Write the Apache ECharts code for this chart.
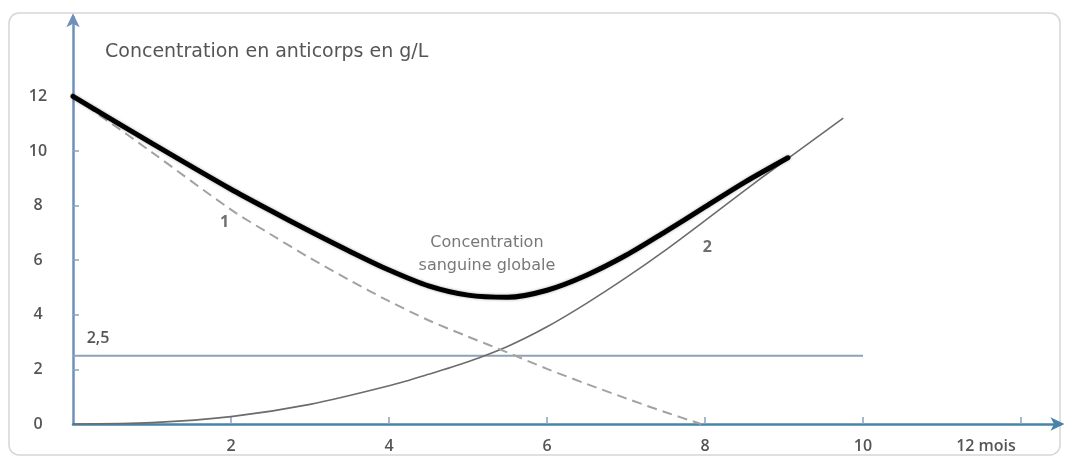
<!DOCTYPE html>
<html>
<head>
<meta charset="utf-8">
<script src="https://cdn.jsdelivr.net/npm/echarts@6/dist/echarts.min.js"></script>
<style>
html,body{margin:0;padding:0;background:#fff;}
#c{width:1067px;height:462px;}
</style>
</head>
<body>
<div id="c"></div>
<script>
// ---- data (months, g/L) ----
var titleText = 'Concentration en anticorps en g/L';
var xTickValues = [2, 4, 6, 8, 10, 12];
var xLastLabel = '12 mois';
var yTickValues = [0, 2, 4, 6, 8, 10, 12];

var globalX = [0, 1, 2, 2.5, 3, 3.5, 4, 4.5, 5, 5.5, 6, 6.5, 7, 7.5, 8, 8.5, 9.05];
var globalY = [12, 10.28, 8.6, 7.82, 7.06, 6.33, 5.64, 5.06, 4.72, 4.64, 4.9, 5.45, 6.18, 7.05, 7.95, 8.85, 9.75];

var curve1X = [0, 0.5, 1, 2, 2.5, 3, 3.5, 4, 4.5, 5, 5.5, 6, 6.5, 7, 7.5, 7.95];
var curve1Y = [12, 10.98, 9.95, 7.85, 6.95, 6.08, 5.27, 4.5, 3.8, 3.2, 2.62, 2.02, 1.47, 0.94, 0.43, 0];

var curve2X = [0, 1, 2, 3, 4, 4.5, 5, 5.5, 6, 6.5, 7, 7.5, 8, 8.5, 9, 9.75];
var curve2Y = [0, 0.05, 0.27, 0.72, 1.4, 1.82, 2.28, 2.84, 3.56, 4.42, 5.36, 6.37, 7.45, 8.55, 9.62, 11.2];

var thresholdX = [0, 10];
var thresholdY = [2.5, 2.5];
var thresholdLabel = '2,5';

var annotTexts = ['1', '2', 'Concentration\nsanguine globale'];
var annotX = [1.92, 8.03, 5.24];
var annotY = [7.4, 6.48, 6.23];

function zip(a, b) { return a.map(function (v, i) { return [v, b[i]]; }); }

var textColor = '#555';
var font = '"Open Sans", "Noto Sans", sans-serif';
var font2 = '"DejaVu Sans", "Noto Sans", sans-serif';

var chart = echarts.init(document.getElementById('c'), null, {renderer: 'canvas'});
chart.setOption({
  backgroundColor: '#fff',
  animation: false,
  title: {
    text: titleText,
    left: 100, top: 38,
    textStyle: {fontFamily: font2, fontSize: 19, fontWeight: 'normal', color: textColor}
  },
  graphic: [{
    type: 'rect', z: -10, silent: true,
    shape: {x: 9, y: 13, width: 1051, height: 442, r: 10},
    style: {fill: null, stroke: '#d6d6d6', lineWidth: 1.5}
  }],
  grid: {left: 73, top: 17.2, width: 987.5, height: 406.8},
  xAxis: {
    type: 'value', min: 0, max: 12.5, interval: 2,
    splitLine: {show: false},
    axisLine: {show: true, symbol: ['none', 'arrow'], symbolSize: [10, 14], symbolOffset: [0, 4],
      lineStyle: {color: '#4a83a8', width: 2.5}},
    axisTick: {show: true, inside: true, length: 7, customValues: xTickValues,
      lineStyle: {color: '#8aa4bd', width: 1.5}},
    axisLabel: {
      customValues: xTickValues, margin: 14,
      fontFamily: font, fontSize: 16, fontWeight: 600, color: textColor,
      formatter: function (v) { return v === 12 ? '{m|' + xLastLabel + '}' : String(v); },
      rich: {m: {fontFamily: font, fontSize: 16, fontWeight: 600, color: textColor, padding: [0, 70, 0, 0]}}
    }
  },
  yAxis: {
    type: 'value', min: 0, max: 14.9, interval: 2,
    splitLine: {show: false},
    axisLine: {show: true, symbol: ['none', 'arrow'], symbolSize: [10, 14], symbolOffset: [0, 4],
      lineStyle: {color: '#6f90b8', width: 2.5}},
    axisTick: {show: true, inside: true, length: 6, customValues: [2, 4, 6, 8, 10],
      lineStyle: {color: '#8aa4bd', width: 1.5}},
    axisLabel: {
      customValues: yTickValues, margin: 35, align: 'center',
      fontFamily: font, fontSize: 16, fontWeight: 600, color: textColor
    }
  },
  series: [
    {
      name: 'seuil', type: 'line', symbol: 'none', silent: true, z: 2,
      data: zip(thresholdX, thresholdY),
      lineStyle: {color: '#8fa3b8', width: 2},
      markPoint: {
        symbol: 'circle', symbolSize: 0,
        data: [{coord: [thresholdX[0], thresholdY[0]], value: thresholdLabel}],
        label: {show: true, position: 'top', offset: [25, -4], formatter: '{c}',
          fontFamily: font, fontSize: 16, fontWeight: 600, color: textColor}
      }
    },
    {
      name: '2', type: 'line', symbol: 'none', smooth: 0.3, silent: true, z: 3,
      data: zip(curve2X, curve2Y),
      lineStyle: {color: '#6c6c6c', width: 1.6}
    },
    {
      name: '1', type: 'line', symbol: 'none', smooth: 0.3, silent: true, z: 3,
      data: zip(curve1X, curve1Y),
      lineStyle: {color: '#a2a2a2', width: 2, type: [10, 6]}
    },
    {
      name: 'globale', type: 'line', symbol: 'none', smooth: 0.3, silent: true, z: 4,
      data: zip(globalX, globalY),
      lineStyle: {color: '#000', width: 5, cap: 'round', shadowColor: 'rgba(0,0,0,0.35)', shadowBlur: 3}
    },
    {
      name: 'annotations', type: 'scatter', symbolSize: 0, silent: true, z: 5,
      data: annotTexts.map(function (t, i) {
        var item = {value: [annotX[i], annotY[i]], name: t};
        if (t.length === 1) { item.label = {fontFamily: font, fontSize: 16, fontWeight: 700, color: '#4a4a4a'}; }
        return item;
      }),
      label: {show: true, position: 'inside', formatter: '{b}', lineHeight: 23,
        fontFamily: font2, fontSize: 16, fontWeight: 'normal', color: textColor},
      emphasis: {disabled: true}
    }
  ]
});
</script>
</body>
</html>
